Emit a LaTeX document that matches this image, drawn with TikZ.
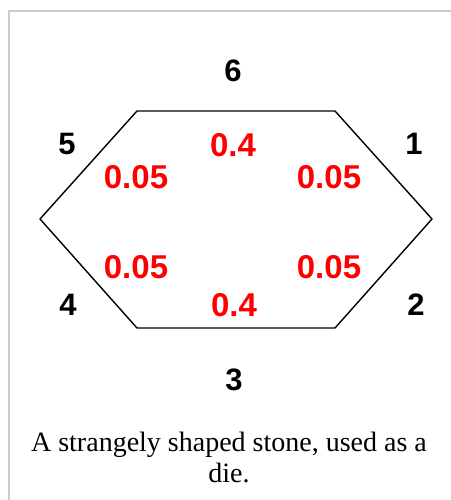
\documentclass[tikz,border=0pt]{standalone}
\usepackage{fontspec}
\setmainfont{Liberation Serif}
\setsansfont{Liberation Sans}
\begin{document}
\begin{tikzpicture}[x=1pt, y=-1pt, line join=round, line cap=round,
  face/.style={font=\sffamily\bfseries\fontsize{31}{31}\selectfont, text=black},
  prob/.style={font=\sffamily\bfseries\fontsize{33}{33}\selectfont, text=red},
  captext/.style={font=\fontsize{28}{31}\selectfont, align=center}
]
  \useasboundingbox (0,0) rectangle (450,500);
  \draw[line width=2pt, color={rgb,255:red,204;green,204;blue,204}]
    (8.5,520) -- (8.5,11) -- (470,11);

  \coordinate (1) at (137,111);
  \coordinate (2) at (335,111);
  \coordinate (3) at (432,219);
  \coordinate (4) at (335,328);
  \coordinate (5) at (137,328);
  \coordinate (6) at (40,219);

  \draw[line width=1.4pt] (1)--(2)--(3)--(4)--(5)--(6)--cycle;

  \node[face] (f6) at (233,71) {6};
  \node[face] (f1) at (414,144) {1};
  \node[face] (f5) at (67,144) {5};
  \node[face] (f4) at (68,305) {4};
  \node[face] (f2) at (416,305) {2};
  \node[face] (f3) at (234,380) {3};

  \node[prob] (p6) at (233,145) {0.4};
  \node[prob] (p5) at (136,177) {0.05};
  \node[prob] (p1) at (329,177) {0.05};
  \node[prob] (p4) at (136,267) {0.05};
  \node[prob] (p2) at (329,267) {0.05};
  \node[prob] (p3) at (234,305) {0.4};

  \node[captext] (caption) at (229,457) {A strangely shaped stone, used as a\\die.};
\end{tikzpicture}
\end{document}
